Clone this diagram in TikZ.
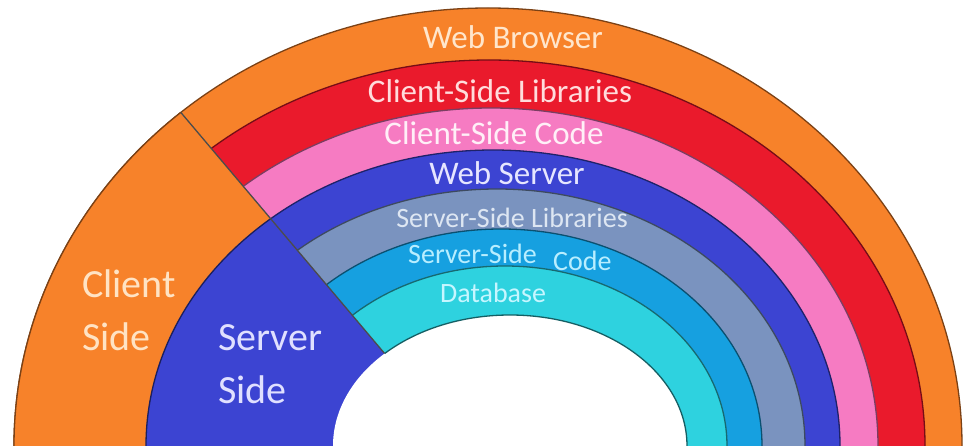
\documentclass[tikz,border=0pt]{standalone}
\usepackage{fontspec}
\newfontfamily\labelfont{Carlito}

% ring fills
\definecolor{cOrange}{HTML}{F7822A}
\definecolor{cRed}{HTML}{EA1A2C}
\definecolor{cPink}{HTML}{F67BC2}
\definecolor{cBlue}{HTML}{3C44D2}
\definecolor{cSlate}{HTML}{7A93BF}
\definecolor{cSky}{HTML}{16A0E0}
\definecolor{cCyan}{HTML}{2ED2DF}
% label tints
\definecolor{tBrowser}{HTML}{FFE6CC}
\definecolor{tClientLib}{HTML}{FFDCDC}
\definecolor{tClientCode}{HTML}{FFEFF7}
\definecolor{tWebServer}{HTML}{E6E6FF}
\definecolor{tSrvLib}{HTML}{DDE6F2}
\definecolor{tSrvCode}{HTML}{B8EEFF}
\definecolor{tDb}{HTML}{C6F6FF}
\definecolor{tClientSide}{HTML}{FFE3C4}
\definecolor{tServerSide}{HTML}{E0E0FF}

\begin{document}
\begin{tikzpicture}[x=1pt,y=-1pt,
  ring/.style={line width=1.3pt},
  lbl/.style={inner sep=0pt, font=\labelfont\fontsize{33}{33}\selectfont},
  lblsmall/.style={inner sep=0pt, font=\labelfont\fontsize{28}{28}\selectfont},
  lblbig/.style={inner sep=0pt, font=\labelfont\fontsize{40}{40}\selectfont}]
\useasboundingbox (0,0) rectangle (965,446);
\fill[white] (0,0) rectangle (965,446);

\begin{scope}
  \clip (0,0) rectangle (965,446);
  % concentric bands, outermost first
  \foreach \cx/\a/\b/\col in {488/474/438/cOrange, 489/436/386/cRed,
      491/387/338/cPink, 493/347/296/cBlue, 497/308/257/cSlate,
      501/261/217/cSky, 505/222/180/cCyan} {
    \filldraw[fill=\col, draw=\col!50!black, ring]
      (\cx,446) ellipse [x radius=\a pt, y radius=\b pt];
  }

  % left sector: client side and server side
  \begin{scope}
    \clip (-14,-118) -- (463,446) -- (-20,446) -- (-20,-118) -- cycle;
    \filldraw[fill=cOrange, draw=cOrange!50!black, ring]
      (488,446) ellipse [x radius=474pt, y radius=438pt];
    \filldraw[fill=cBlue, draw=cBlue!45!black, ring]
      (493,446) ellipse [x radius=347pt, y radius=296pt];
  \end{scope}

  % empty core, outlined only along the database band
  \fill[white] (510,446) ellipse [x radius=177pt, y radius=131pt];
  \begin{scope}
    \clip (-14,-118) -- (463,446) -- (985,446) -- (985,-118) -- cycle;
    \draw[cCyan!45!black, ring]
      (510,446) ellipse [x radius=177pt, y radius=131pt];
  \end{scope}

  \coordinate (cutTop) at (180.8,112.4);
  \coordinate (cutBottom) at (384.5,353.4);
  \draw[black!70, ring] (cutTop) -- (cutBottom);
\end{scope}

% band labels
\node[lbl, text=tBrowser, anchor=base] (browser) at (513,49) {Web Browser};
\node[lbl, text=tClientLib, anchor=base] (clientlib) at (500,103) {Client-Side Libraries};
\node[lbl, text=tClientCode, anchor=base] (clientcode) at (494,145) {Client-Side Code};
\node[lbl, text=tWebServer, anchor=base] (webserver) at (507,185) {Web Server};
\node[lblsmall, text=tSrvLib, anchor=base] (srvlib) at (512,227) {Server-Side Libraries};
\node[lblsmall, text=tSrvCode, anchor=base west] (srvcode) at (408,263) {Server-Side};
\node[lblsmall, text=tSrvCode, anchor=base west] (srvcodetail) at (553,270) {Code};
\node[lblsmall, text=tDb, anchor=base west] (database) at (440,302) {Database};

% sector labels
\node[lblbig, text=tClientSide, anchor=base west] (client1) at (82,297) {Client};
\node[lblbig, text=tClientSide, anchor=base west] (client2) at (82,350) {Side};
\node[lblbig, text=tServerSide, anchor=base west] (server1) at (218,350) {Server};
\node[lblbig, text=tServerSide, anchor=base west] (server2) at (218,403) {Side};
\end{tikzpicture}
\end{document}
